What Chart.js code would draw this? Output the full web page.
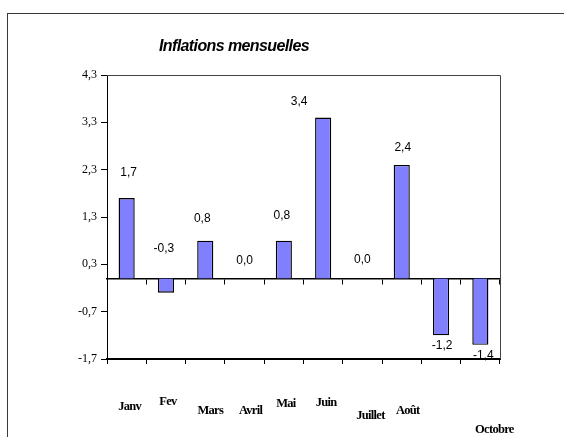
<!DOCTYPE html>
<html lang="fr">
<head>
    <meta charset="UTF-8">
    <title>Inflations mensuelles</title>
    <style>
        html, body { margin: 0; padding: 0; background: #fff; overflow: hidden; }
        .frame { position: absolute; left: 7px; top: 13px; width: 620px; height: 500px; border: 1px solid #3a3a3a; }
        .chart-container { position: absolute; left: 0; top: 0; width: 564px; height: 437px; }
    </style>
</head>
<body>
<script src="https://cdn.jsdelivr.net/npm/chart.js@4.4.0/dist/chart.umd.min.js"></script>

<div class="frame"></div>
<div class="chart-container">
    <canvas id="inflation"></canvas>
</div>
<script>
    const title = 'Inflations mensuelles'
    const months = ['Janv', 'Fev', 'Mars', 'Avril', 'Mai', 'Juin', 'Juillet', 'Août', '', 'Octobre']
    const inflation = [1.7, -0.3, 0.8, 0.0, 0.8, 3.4, 0.0, 2.4, -1.2, -1.4]
    const yTicks = [-1.7, -0.7, 0.3, 1.3, 2.3, 3.3, 4.3]

    // hand placed labels, like in the spreadsheet: [dx from bar, dy from bar end]
    const valueNudge = [[2, -25], [-2, -44], [-3, -22], [0, -18], [-2, -25],
                        [-24, -16], [0, -19], [1, -17], [1, 10], [3, 11]]
    // month labels: [dx from category centre, dy from plot bottom]
    const monthNudge = [[3, 48], [2, 43], [5, 52], [6, 52], [2, 45],
                        [3, 44], [8, 57], [6, 52], [0, 0], [14, 71]]

    const fmt = v => v.toFixed(1).replace('.', ',')

    const extras = {
        id: 'extras',
        afterDraw(chart) {
            const ctx = chart.ctx
            const area = chart.chartArea
            const xs = chart.scales.x

            ctx.save()
            // top + right of the plot box
            ctx.strokeStyle = '#444'
            ctx.lineWidth = 1
            ctx.beginPath()
            ctx.moveTo(area.left, area.top + 0.5)
            ctx.lineTo(area.right + 0.5, area.top + 0.5)
            ctx.lineTo(area.right + 0.5, area.bottom)
            ctx.stroke()

            // title
            ctx.fillStyle = '#000'
            ctx.font = 'italic bold 16px "Liberation Sans"'
            ctx.letterSpacing = '-0.6px'
            ctx.textAlign = 'center'
            ctx.textBaseline = 'middle'
            ctx.fillText(title, 234, 47)

            // value labels
            ctx.letterSpacing = '0px'
            ctx.font = '12px "Liberation Sans"'
            chart.getDatasetMeta(0).data.forEach((bar, i) => {
                ctx.fillText(fmt(inflation[i]), bar.x + valueNudge[i][0], bar.y + valueNudge[i][1])
            })

            // month labels
            ctx.font = 'bold 12.5px "Liberation Serif"'
            ctx.letterSpacing = '-0.7px'
            months.forEach((m, i) => {
                if (!m) return
                ctx.fillText(m, xs.getPixelForValue(i) + monthNudge[i][0], area.bottom + monthNudge[i][1])
            })
            ctx.restore()
        }
    }

    const ctx = document.getElementById('inflation').getContext('2d')
    const inflation_chart = new Chart(ctx, {
        type: 'bar',
        data: {
            labels: months,
            datasets: [{
                data: inflation,
                backgroundColor: '#8080ff',
                borderColor: '#000',
                borderWidth: 1.4,
                categoryPercentage: 1,
                barPercentage: 0.41
            }]
        },
        options: {
            responsive: true,
            maintainAspectRatio: false,
            animation: false,
            layout: {padding: {left: 0, top: 75, right: 64, bottom: 0}},
            plugins: {
                legend: {display: false},
                title: {display: false},
                tooltip: {enabled: false}
            },
            scales: {
                x: {
                    position: {y: 0},
                    offset: true,
                    ticks: {display: false},
                    grid: {offset: true, drawOnChartArea: false, tickLength: 5, color: '#000'},
                    border: {color: '#000', width: 1.5},
                    afterFit: s => { s.height = 0 }
                },
                x2: {
                    type: 'category',
                    labels: months,
                    position: 'bottom',
                    offset: true,
                    ticks: {display: false},
                    grid: {offset: true, drawOnChartArea: false, tickLength: 5, color: '#000'},
                    border: {color: '#000', width: 2},
                    afterFit: s => { s.height = 78 }
                },
                y: {
                    min: yTicks[0],
                    max: yTicks[yTicks.length - 1],
                    afterBuildTicks: s => { s.ticks = yTicks.map(v => ({value: v})) },
                    ticks: {
                        padding: 4,
                        color: '#000',
                        font: {family: '"Liberation Serif"', size: 12},
                        callback: v => fmt(v)
                    },
                    grid: {drawOnChartArea: false, tickLength: 6, color: '#000'},
                    border: {color: '#000', width: 1},
                    afterFit: s => { s.width = 107 }
                }
            }
        },
        plugins: [extras]
    })
</script>
</body>
</html>
